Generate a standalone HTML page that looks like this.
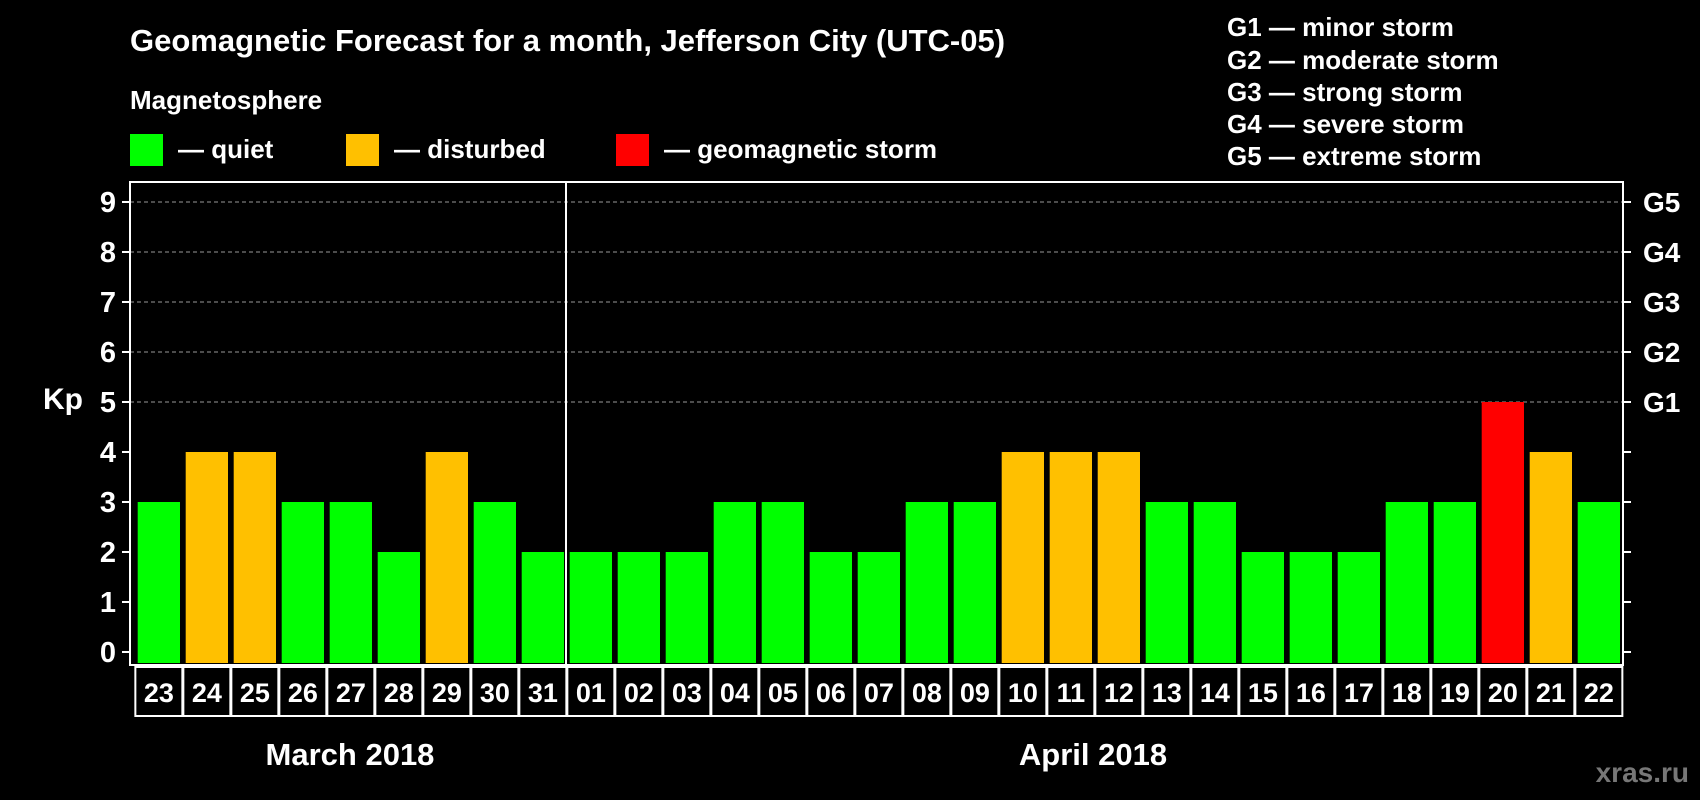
<!DOCTYPE html>
<html><head><meta charset="utf-8"><style>
html,body{margin:0;padding:0;background:#000;}
svg{display:block;font-family:"Liberation Sans",Arial,sans-serif;font-weight:bold;}
</style></head><body>
<svg id="chart" width="1700" height="800" viewBox="0 0 1700 800" xmlns="http://www.w3.org/2000/svg">
<rect width="1700" height="800" fill="#000"/>
<text x="130" y="51" fill="#fff" font-size="31">Geomagnetic Forecast for a month, Jefferson City (UTC-05)</text>
<text x="130" y="109" fill="#fff" font-size="26">Magnetosphere</text>
<g><rect x="130" y="134" width="33" height="32" fill="#00ff00"/><text x="178" y="158" fill="#fff" font-size="26">— quiet</text></g>
<g><rect x="346" y="134" width="33" height="32" fill="#ffc000"/><text x="394" y="158" fill="#fff" font-size="26">— disturbed</text></g>
<g><rect x="616" y="134" width="33" height="32" fill="#ff0000"/><text x="664" y="158" fill="#fff" font-size="26">— geomagnetic storm</text></g>
<g fill="#fff" font-size="26">
<text x="1227" y="36">G1 — minor storm</text>
<text x="1227" y="69">G2 — moderate storm</text>
<text x="1227" y="101">G3 — strong storm</text>
<text x="1227" y="133">G4 — severe storm</text>
<text x="1227" y="165">G5 — extreme storm</text>
</g>
<text x="43" y="409" fill="#fff" font-size="30">Kp</text>
<g id="grid"></g><g id="bars"></g><g id="axes"></g><g id="xlabels"></g>
<text x="350" y="765" fill="#fff" font-size="31" text-anchor="middle">March 2018</text>
<text x="1093" y="765" fill="#fff" font-size="31" text-anchor="middle">April 2018</text>
<text x="1689" y="782" fill="#777" font-size="28" text-anchor="end">xras.ru</text>
</svg>
<script>
const days = ["23","24","25","26","27","28","29","30","31","01","02","03","04","05","06","07","08","09","10","11","12","13","14","15","16","17","18","19","20","21","22"];
const kpValues = [3,4,4,3,3,2,4,3,2,2,2,2,3,3,2,2,3,3,4,4,4,3,3,2,2,2,3,3,5,4,3];
const yTicks = [0,1,2,3,4,5,6,7,8,9];
const gLabels = ["G1","G2","G3","G4","G5"];
const gLevels = [5,6,7,8,9];
const NS="http://www.w3.org/2000/svg";
const L=130,R=1623,T=182,B=665,x0=137.7,pitch=48.0,bw=42.3;
function y(v){return 652-v*50;}
function xc(i){return x0+i*pitch+bw/2;}
function mk(tag,attrs,parent){const e=document.createElementNS(NS,tag);for(const k in attrs)e.setAttribute(k,attrs[k]);parent.appendChild(e);return e;}
const grid=document.getElementById('grid'),bars=document.getElementById('bars'),axes=document.getElementById('axes'),xl=document.getElementById('xlabels');
yTicks.forEach(v=>{
  if(v>=5){const g=mk('line',{x1:L,x2:R,y1:y(v),y2:y(v),stroke:'#999','stroke-dasharray':'4,3','stroke-width':1},grid);
  
  }
  const t1=mk('line',{x1:L-8,x2:L,y1:y(v),y2:y(v),stroke:'#fff','stroke-width':2},axes);
  
  
  const t2=mk('line',{x1:R,x2:R+8,y1:y(v),y2:y(v),stroke:'#fff','stroke-width':2},axes);
  
  
  const lb=mk('text',{x:L-14,y:y(v)+10,fill:'#fff','font-size':29,'text-anchor':'end'},axes);
  lb.textContent=v;
  
  
});
gLabels.forEach((g,i)=>{
  const t=mk('text',{x:1643,y:y(gLevels[i])+10,fill:'#fff','font-size':28},axes);
  t.textContent=g;
  
  
});
kpValues.forEach((v,i)=>{
  const c=v>=5?'#ff0000':(v>=4?'#ffc000':'#00ff00');
  const b=mk('rect',{x:x0+i*pitch,y:y(v),width:bw,height:B-y(v)-2,fill:c},bars);
  
  
  const cell=mk('rect',{x:xc(i)-23.5,y:B+2,width:47,height:49,fill:'none',stroke:'#fff','stroke-width':2},xl);
  
  
  const t=mk('text',{x:xc(i),y:B+37,fill:'#fff','font-size':27,'text-anchor':'middle'},xl);
  t.textContent=days[i];
  
  
});
const fr=mk('rect',{x:L,y:T,width:R-L,height:B-T,fill:'none',stroke:'#fff','stroke-width':2},axes);


const dv=mk('line',{x1:566,x2:566,y1:T,y2:B,stroke:'#fff','stroke-width':2},axes);


</script>
</body></html>
